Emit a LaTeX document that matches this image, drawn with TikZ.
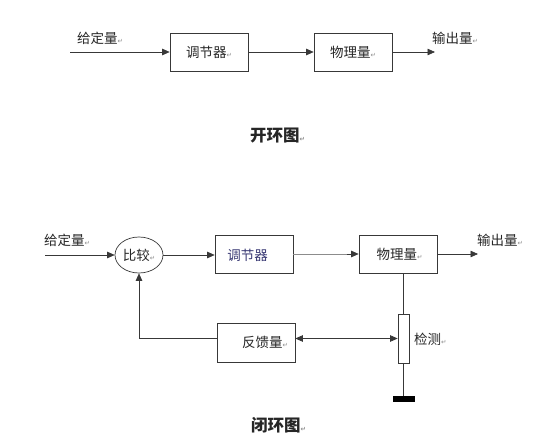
\documentclass[tikz,border=0pt]{standalone}
\usepackage{fontspec}
\setmainfont{Noto Sans CJK SC}
\newfontfamily\symfont{DejaVu Sans}
\usetikzlibrary{arrows.meta,shapes.geometric,calc}
\definecolor{linec}{gray}{0.22}
\definecolor{retc}{gray}{0.55}
\definecolor{fadec}{gray}{0.55}
\definecolor{bluetxt}{rgb}{0.22,0.22,0.45}
\newcommand{\ret}{{\symfont\fontsize{6.5}{7}\selectfont\color{retc}↵}}
\begin{document}
\begin{tikzpicture}[x=1pt,y=-1pt,
  every node/.style={font=\fontsize{13.5}{15}\selectfont, text=black!85},
  blockbox/.style={draw=linec, line width=0.7pt, minimum width=78pt, minimum height=38pt, inner sep=0pt},
  cmpshape/.style={draw=linec, line width=0.7pt, ellipse, minimum width=48pt, minimum height=36pt, inner sep=0pt},
  lbl/.style={anchor=west, inner sep=0pt},
  ttl/.style={anchor=west, inner sep=0pt, font=\fontsize{16.5}{19}\selectfont\bfseries},
  conn/.style={draw=linec, line width=0.7pt, -{Triangle[length=7.5pt,width=6.5pt]}},
  plain/.style={draw=linec, line width=0.7pt},
  dbl/.style={draw=linec, line width=0.7pt, {Triangle[length=7.5pt,width=6.5pt]}-{Triangle[length=7.5pt,width=6.5pt]}},
  resbox/.style={draw=linec, line width=0.7pt, fill=white, minimum width=11pt, minimum height=49pt, inner sep=0pt},
  gndbar/.style={fill=black, minimum width=22pt, minimum height=6pt, inner sep=0pt}
]
\useasboundingbox (0,0) rectangle (550,444);
% ---------- open loop ----------
\coordinate (in1) at (70,52);
\node[blockbox] (r1) at (209,52) {调节器\ret};
\node[blockbox] (p1) at (353,52) {物理量\ret};
\coordinate (out1) at (435,52);
\node[lbl] (lin1) at (77,38) {给定量\ret};
\node[lbl] (lout1) at (432,38) {输出量\ret};
\node[ttl] (t1) at (250,136) {开环图\ret};
\draw[conn] (in1) -- (r1.west);
\draw[conn] (r1.east) -- (p1.west);
\draw[conn] (p1.east) -- (out1);
% ---------- closed loop ----------
\coordinate (in2) at (45,255);
\node[cmpshape] (cmp) at (139,255) {比较\ret};
\node[blockbox] (r2) at (254,254) {};
\node[inner sep=0pt, text=bluetxt] (r2t) at (247.5,255) {调节器};
\node[blockbox] (p2) at (398,254) {\hspace*{3pt}物理量\ret};
\coordinate (out2) at (478,254);
\node[lbl] (lin2) at (44,240) {给定量\ret};
\node[lbl] (lout2) at (477,240) {输出量\ret};
\node[resbox] (det) at (403.5,338.5) {};
\node[gndbar] (gnd) at (404,399) {};
\node[blockbox, minimum height=39pt] (fb) at (256,342.5) {\hspace*{18pt}反馈量\ret};
\node[lbl] (ldet) at (414,339) {检测\ret};
\node[ttl] (t2) at (251,425) {闭环图\ret};
\draw[conn] (in2) -- (cmp.west);
\draw[conn] (cmp.east) -- (cmp.east -| r2.west);
\draw[draw=fadec, line width=0.6pt] (r2.east) -- ($(p2.west)+(-10,0)$);
\draw[conn] ($(p2.west)+(-12,0)$) -- (p2.west);
\draw[conn] (p2.east) -- (out2);
\draw[plain] (det.north) -- (det.north |- p2.south);
\draw[plain] (det.south) -- (gnd.north -| det.south);
\draw[dbl] (fb.east |- det.west) -- (det.west);
\draw[conn] (fb.west |- det.west) -| (cmp.south);
\end{tikzpicture}
\end{document}
